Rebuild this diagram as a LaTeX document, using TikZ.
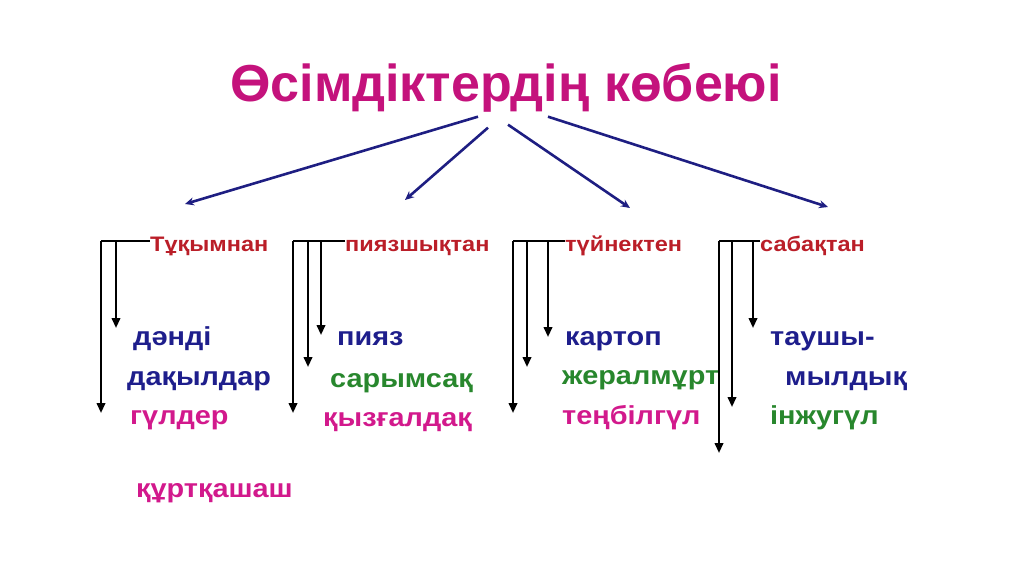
\documentclass[tikz,border=0pt]{standalone}
\usepackage{fontspec}
\setmainfont{Liberation Sans}
\newfontfamily\itemfont[FakeStretch=1.11]{Liberation Sans}
\newfontfamily\headfont[FakeStretch=1.12]{Liberation Sans}
\usetikzlibrary{arrows.meta}

\definecolor{titlepink}{RGB}{196,18,124}
\definecolor{headred}{RGB}{186,30,40}
\definecolor{itemblue}{RGB}{30,30,140}
\definecolor{itemgreen}{RGB}{40,135,45}
\definecolor{itempink}{RGB}{210,25,140}
\definecolor{linkblue}{RGB}{30,30,130}

\begin{document}
\begin{tikzpicture}[
        x=1pt,y=-1pt,
        >={Triangle[length=10pt,width=8.5pt]},
        every node/.style={inner sep=0pt},
        title/.style={text=titlepink,font=\bfseries\fontsize{52}{56}\selectfont},
        heading/.style={anchor=base west,text=headred,font=\headfont\bfseries\fontsize{21}{24}\selectfont},
        item/.style={anchor=base west,font=\itemfont\bfseries\fontsize{26}{28}\selectfont},
        branch/.style={draw=linkblue,line width=2.6pt,-{Stealth[length=9pt,width=8pt]}},
        bracket/.style={line width=2.2pt,->}
    ]

    \useasboundingbox (0,0) rectangle (1024,574);

    % Title and its four branches
    \node[title] (title) at (506,88) {Өсімдіктердің көбеюі};

    \coordinate (e1) at (185,204);
    \coordinate (e2) at (405,200);
    \coordinate (e3) at (630,208);
    \coordinate (e4) at (828,207);

    \draw[branch] ([xshift=-28pt,yshift=-4pt]title.south) -- (e1);
    \draw[branch] ([xshift=-18pt,yshift=-15pt]title.south) -- (e2);
    \draw[branch] ([xshift=2pt,yshift=-12pt]title.south) -- (e3);
    \draw[branch] ([xshift=42pt,yshift=-4pt]title.south) -- (e4);

    % Seeds
    \node[heading] (h1) at (150,251) {Тұқымнан};
    \coordinate (c1) at (101,241);
    \coordinate (t1a) at (101,413);
    \coordinate (t1b) at (116,328);
    \draw[line width=2.2pt] (c1) -- (c1 -| h1.west);
    \draw[bracket] (c1) -- (t1a);
    \draw[bracket] (c1 -| t1b) -- (t1b);

    \node[item,text=itemblue] (i11) at (133,345) {дәнді};
    \node[item,text=itemblue] (i12) at (127,385) {дақылдар};
    \node[item,text=itempink] (i13) at (130,424) {гүлдер};
    \node[item,text=itempink] (i14) at (136,497) {құртқашаш};

    % Bulbs
    \node[heading] (h2) at (345,251) {пиязшықтан};
    \coordinate (c2) at (293,241);
    \coordinate (t2a) at (293,413);
    \coordinate (t2b) at (308,367);
    \coordinate (t2c) at (321,335);
    \draw[line width=2.2pt] (c2) -- (c2 -| h2.west);
    \draw[bracket] (c2) -- (t2a);
    \draw[bracket] (c2 -| t2b) -- (t2b);
    \draw[bracket] (c2 -| t2c) -- (t2c);

    \node[item,text=itemblue] (i21) at (337,345) {пияз};
    \node[item,text=itemgreen] (i22) at (330,387) {сарымсақ};
    \node[item,text=itempink] (i23) at (323,426) {қызғалдақ};

    % Tubers
    \node[heading] (h3) at (565,251) {түйнектен};
    \coordinate (c3) at (513,241);
    \coordinate (t3a) at (513,413);
    \coordinate (t3b) at (527,367);
    \coordinate (t3c) at (548,337);
    \draw[line width=2.2pt] (c3) -- (c3 -| h3.west);
    \draw[bracket] (c3) -- (t3a);
    \draw[bracket] (c3 -| t3b) -- (t3b);
    \draw[bracket] (c3 -| t3c) -- (t3c);

    \node[item,text=itemblue] (i31) at (565,345) {картоп};
    \node[item,text=itemgreen] (i32) at (562,384) {жералмұрт};
    \node[item,text=itempink] (i33) at (562,424) {теңбілгүл};

    % Stems
    \node[heading] (h4) at (760,251) {сабақтан};
    \coordinate (c4) at (719,241);
    \coordinate (t4a) at (719,453);
    \coordinate (t4b) at (732,407);
    \coordinate (t4c) at (753,328);
    \draw[line width=2.2pt] (c4) -- (c4 -| h4.west);
    \draw[bracket] (c4) -- (t4a);
    \draw[bracket] (c4 -| t4b) -- (t4b);
    \draw[bracket] (c4 -| t4c) -- (t4c);

    \node[item,text=itemblue] (i41) at (770,345) {таушы-};
    \node[item,text=itemblue] (i42) at (785,385) {мылдық};
    \node[item,text=itemgreen] (i43) at (770,424) {інжугүл};

\end{tikzpicture}
\end{document}
